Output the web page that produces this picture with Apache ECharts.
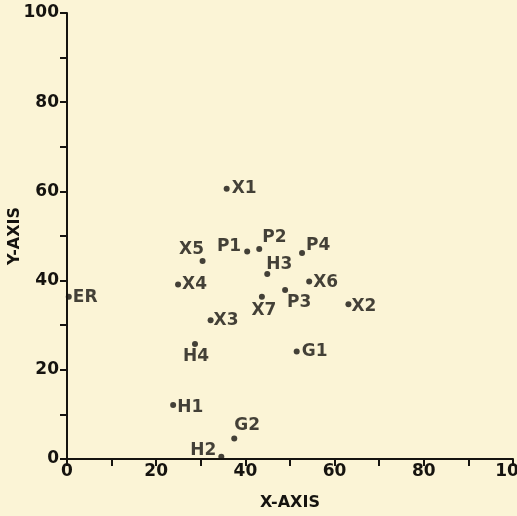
<!DOCTYPE html>
<html>
<head>
<meta charset="utf-8">
<script src="https://cdn.jsdelivr.net/npm/echarts@6/dist/echarts.min.js"></script>
<style>
html,body{margin:0;padding:0;background:#FBF4D6;overflow:hidden;}
#chart{width:517px;height:516px;}
</style>
</head>
<body>
<div id="chart"></div>
<script>
// Data
const pointNames = ['X1','P1','P2','P4','X5','H3','X4','X6','X7','P3','X2','X3','H4','G1','H1','G2','H2','ER'];
const xValues = [35.8, 40.4, 43.1, 52.7, 30.4, 44.9, 24.9, 54.3, 43.7, 48.9, 63.1, 32.2, 28.7, 51.5, 23.8, 37.5, 34.6, 0.4];
const yValues = [60.6, 46.5, 47.1, 46.2, 44.4, 41.5, 39.1, 39.8, 36.4, 37.9, 34.7, 31.1, 25.8, 24.1, 12.1, 4.6, 0.5, 36.4];
const axisTicks = [0, 20, 40, 60, 80, 100];

// Label placement (style only)
const labelPlacement = {
  X1: ['left', 5, 0],
  P1: ['right', -6, -5],
  P2: ['left', 3, -11],
  P4: ['left', 4, -7],
  X5: ['center', -11, -11],
  H3: ['left', -1, -9],
  X4: ['left', 4, 0],
  X6: ['left', 4, 1],
  X7: ['center', 2, 14],
  P3: ['center', 14, 13],
  X2: ['left', 3, 2],
  X3: ['left', 3, 0],
  H4: ['center', 1, 13],
  G1: ['left', 5, 0],
  H1: ['left', 4, 3],
  G2: ['left', 0, -13],
  H2: ['right', -5, -6],
  ER: ['left', 4, 1]
};

const ink = '#15130f';
const font = 'DejaVu Sans';

const data = pointNames.map((n, i) => {
  const p = labelPlacement[n];
  return {
    name: n,
    value: [xValues[i], yValues[i]],
    label: {
      show: true,
      formatter: n,
      position: 'inside',
      align: p[0],
      verticalAlign: 'middle',
      offset: [p[1], p[2]]
    }
  };
});

const axisCommon = {
  type: 'value',
  min: axisTicks[0],
  max: axisTicks[axisTicks.length - 1],
  interval: axisTicks[1] - axisTicks[0],
  nameLocation: 'middle',
  nameMoveOverlap: false,
  nameTextStyle: { color: ink, fontFamily: font, fontSize: 16, fontWeight: 'bold' },
  axisLine: { show: true, lineStyle: { color: ink, width: 2 } },
  axisTick: { show: true, inside: false, length: 7, lineStyle: { color: ink, width: 2 } },
  minorTick: { show: true, splitNumber: 2, length: 7, lineStyle: { color: ink, width: 2 } },
  splitLine: { show: false },
  minorSplitLine: { show: false },
  axisLabel: { color: ink, fontFamily: font, fontSize: 17, fontWeight: 'bold', hideOverlap: false, showMaxLabel: true, showMinLabel: true }
};

const chart = echarts.init(document.getElementById('chart'), null, { renderer: 'canvas' });
chart.setOption({
  backgroundColor: '#FBF4D6',
  animation: false,
  grid: { left: 67, top: 13, width: 446, height: 446, containLabel: false, outerBoundsMode: 'none' },
  xAxis: Object.assign({}, axisCommon, {
    name: 'X-AXIS',
    nameGap: 36,
    axisLabel: Object.assign({}, axisCommon.axisLabel, { margin: 4 })
  }),
  yAxis: Object.assign({}, axisCommon, {
    name: 'Y-AXIS',
    nameGap: 44,
    axisLabel: Object.assign({}, axisCommon.axisLabel, { margin: 8 })
  }),
  series: [{
    type: 'scatter',
    symbol: 'circle',
    symbolSize: 6,
    itemStyle: { color: ink },
    label: { color: ink, fontFamily: font, fontSize: 17, fontWeight: 'bold' },
    data: data
  }]
});
</script>
</body>
</html>
